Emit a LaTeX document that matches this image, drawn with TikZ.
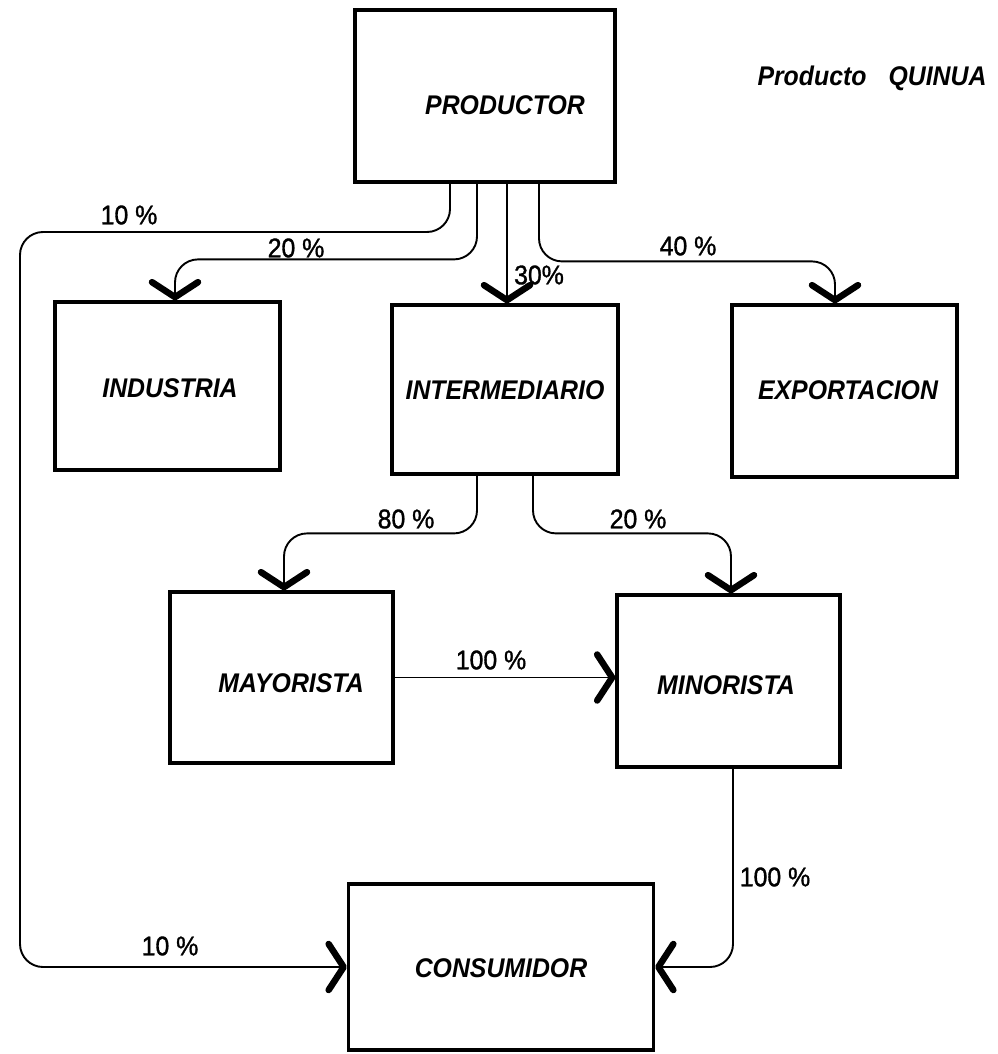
\documentclass[tikz,border=0pt]{standalone}
\usepackage{fontspec}
\setmainfont{Liberation Sans}
\newfontfamily\lblfont[FakeStretch=0.92]{Liberation Sans}
\newfontfamily\pctfont[FakeStretch=0.92,FakeBold=1.2]{Liberation Sans}
\usetikzlibrary{arrows.meta}
\begin{document}
\begin{tikzpicture}[x=1pt,y=-1pt,
  box/.style={draw, line width=3.2pt, inner sep=0pt, rectangle},
  lbl/.style={font=\lblfont\fontsize{27}{30}\selectfont\bfseries\itshape, inner sep=0pt},
  pct/.style={font=\pctfont\fontsize{27}{30}\selectfont, inner sep=0pt},
  conn/.style={line width=1.9pt, rounded corners=23pt,
    -{Straight Barb[length=15pt,width=46pt,line width=6.5pt,round]}}]
\useasboundingbox (0,0) rectangle (997,1054);

% boxes
\node[box, minimum width=260pt, minimum height=172pt] (prod)  at (485,96) {};
\node[box, minimum width=225pt, minimum height=168pt] (ind)   at (167.5,386) {};
\node[box, minimum width=226pt, minimum height=169pt] (inter) at (505,389.5) {};
\node[box, minimum width=225pt, minimum height=172pt] (expo)  at (844.5,391) {};
\node[box, minimum width=223pt, minimum height=171pt] (mayo)  at (281.5,677.5) {};
\node[box, minimum width=223pt, minimum height=172pt] (mino)  at (728.5,681) {};
\node[box, minimum width=305pt, minimum height=166pt] (cons)  at (501,967) {};

% box texts
\node[lbl] (tprod)  at (505,105) {PRODUCTOR};
\node[lbl] (tind)   at (170,388) {INDUSTRIA};
\node[lbl] (tinter) at (505,390) {INTERMEDIARIO};
\node[lbl] (texpo)  at (848,390) {EXPORTACION};
\node[lbl] (tmayo)  at (291,683) {MAYORISTA};
\node[lbl] (tmino)  at (726,685) {MINORISTA};
\node[lbl] (tcons)  at (501,968) {CONSUMIDOR};
\node[lbl] (title)  at (872,78) {Producto\hspace{22pt}QUINUA};

% connectors
\draw[conn] ([xshift=-35pt]prod.south) |- (20,232) |- (cons.west);
\draw[conn] ([xshift=-8pt]prod.south) |- ([xshift=7.5pt,yshift=41pt]ind.north) -- ([xshift=7.5pt]ind.north);
\draw[conn] ([xshift=22pt]prod.south) -- ([xshift=2pt]inter.north);
\draw[conn] ([xshift=54pt]prod.south) |- ([xshift=-9.5pt,yshift=42pt]expo.north) -- ([xshift=-9.5pt]expo.north);
\draw[conn] ([xshift=-28pt]inter.south) |- ([xshift=2.5pt,yshift=57pt]mayo.north) -- ([xshift=2.5pt]mayo.north);
\draw[conn] ([xshift=28pt]inter.south) |- ([xshift=2.5pt,yshift=60pt]mino.north) -- ([xshift=2.5pt]mino.north);
\draw[conn] (mayo.east) -- (mayo.east -| mino.west);
\draw[conn] ([xshift=4.5pt]mino.south) |- (cons.east);

% percentages
\node[pct] (p1) at (129,215) {10 \%};
\node[pct] (p2) at (296,248) {20 \%};
\node[pct] (p3) at (539,275) {30\%};
\node[pct] (p4) at (688,246) {40 \%};
\node[pct] (p5) at (406,519) {80 \%};
\node[pct] (p6) at (638,519) {20 \%};
\node[pct] (p7) at (491,660) {100 \%};
\node[pct] (p8) at (775,877) {100 \%};
\node[pct] (p9) at (170,946) {10 \%};
\end{tikzpicture}
\end{document}
